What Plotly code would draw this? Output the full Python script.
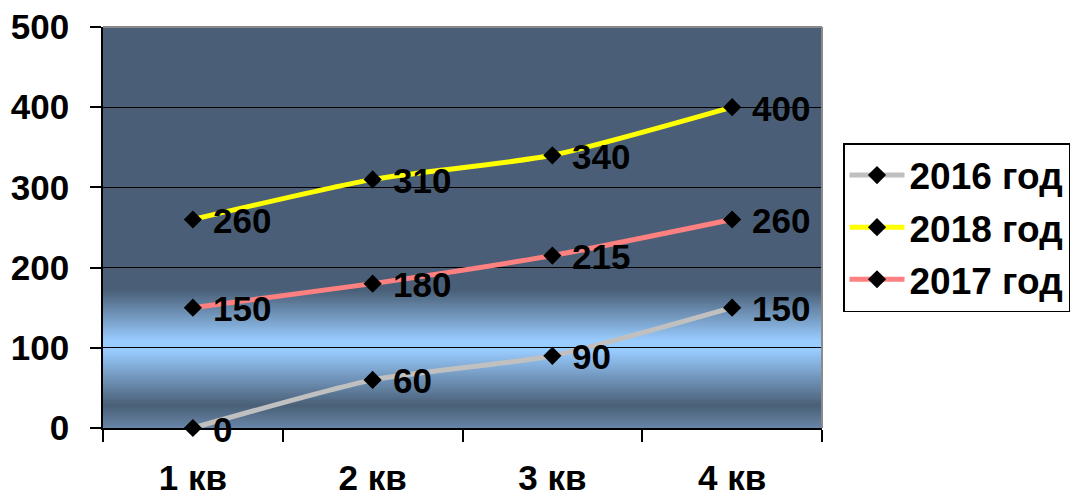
import plotly.graph_objects as go

# Quarterly values per year
quarters = ["1 кв", "2 кв", "3 кв", "4 кв"]
series_names = ["2016 год", "2018 год", "2017 год"]
values_2016 = [0, 60, 90, 150]
values_2018 = [260, 310, 340, 400]
values_2017 = [150, 180, 215, 260]
y_ticks = [0, 100, 200, 300, 400, 500]

series_values = [values_2016, values_2018, values_2017]
series_colors = ["#c0c0c0", "#ffff00", "#ff8080"]

FONT = "Liberation Sans, Arial, sans-serif"
W, H = 1083, 499
M_L, M_R, M_T, M_B = 103, 261, 27, 71

fig = go.Figure()

for name, vals, color in zip(series_names, series_values, series_colors):
    fig.add_trace(go.Scatter(
        x=quarters, y=vals, name=f"<b>{name}</b>", mode="lines+markers",
        line=dict(color=color, width=5, shape="spline", smoothing=0.6),
        marker=dict(symbol="diamond", size=14, color="black"),
        legendgroup=name, cliponaxis=False,
    ))

# value labels to the right of each point
annotations = []
for vals in series_values:
    for q, v in zip(quarters, vals):
        annotations.append(dict(
            x=q, y=v, xref="x", yref="y", text=f"<b>{v}</b>",
            showarrow=False, xanchor="left", yanchor="middle",
            xshift=18, yshift=-1,
            font=dict(family=FONT, size=35, color="black"),
        ))

# vertical gradient for the plot background (dark slate with a light-blue band)
dark = (74, 95, 119)
light = (153, 204, 255)
bottom = (104, 134, 168)
stops = [(0, bottom), (28, dark), (97, light), (109, light), (172, dark), (500, dark)]


def color_at(v):
    for (v0, c0), (v1, c1) in zip(stops[:-1], stops[1:]):
        if v0 <= v <= v1:
            t = (v - v0) / (v1 - v0) if v1 > v0 else 0
            return tuple(round(a + (b - a) * t) for a, b in zip(c0, c1))
    return dark


# each band runs up to the top so that later bands cover the rest without seams
shapes = []
step = 1.5
v = 0.0
while v < 180:
    c = color_at(v + step / 2)
    shapes.append(dict(
        type="rect", xref="paper", yref="y", x0=0, x1=1, y0=v, y1=500,
        fillcolor=f"rgb{c}", line=dict(width=0), layer="below",
    ))
    v += step
shapes.append(dict(
    type="rect", xref="paper", yref="y", x0=0, x1=1, y0=v, y1=500,
    fillcolor=f"rgb{dark}", line=dict(width=0), layer="below",
))

# thin grey frame along top and right edges of the plot area
shapes.append(dict(type="line", xref="paper", yref="paper", x0=0, x1=1, y0=1, y1=1,
                   line=dict(color="#8a8a8a", width=2), layer="above"))
shapes.append(dict(type="line", xref="paper", yref="paper", x0=1, x1=1, y0=0, y1=1,
                   line=dict(color="#8a8a8a", width=2), layer="above"))

fig.update_layout(
    width=W, height=H,
    margin=dict(l=M_L, r=M_R, t=M_T, b=M_B, pad=0, autoexpand=False),
    paper_bgcolor="white", plot_bgcolor="rgba(0,0,0,0)",
    font=dict(family=FONT, size=35, color="black"),
    shapes=shapes, annotations=annotations,
    showlegend=True,
    legend=dict(
        x=(843 - M_L) / (W - M_L - M_R), y=(H - M_B - 143) / (H - M_T - M_B),
        xanchor="left", yanchor="top",
        bgcolor="white", bordercolor="black", borderwidth=1.5,
        font=dict(family=FONT, size=37, color="black"),
        tracegroupgap=1, itemwidth=55,
    ),
    xaxis=dict(
        type="category", range=[-0.5, 3.5], tickson="boundaries",
        showgrid=False, zeroline=False, automargin=False,
        showline=True, linecolor="black", linewidth=2,
        ticks="outside", ticklen=12, tickwidth=1.5, tickcolor="black",
        ticklabelstandoff=18,
        tickfont=dict(family=FONT, size=35, color="black", weight="bold"),
        fixedrange=True,
    ),
    yaxis=dict(
        range=[0, 500], tickvals=y_ticks, automargin=False,
        showgrid=True, gridcolor="black", gridwidth=1,
        zeroline=False,
        showline=True, linecolor="black", linewidth=1.5,
        ticks="outside", ticklen=11, tickwidth=1.5, tickcolor="black",
        ticklabelstandoff=14,
        tickfont=dict(family=FONT, size=35, color="black", weight="bold"),
        fixedrange=True,
    ),
)

fig.write_html("out.html")
